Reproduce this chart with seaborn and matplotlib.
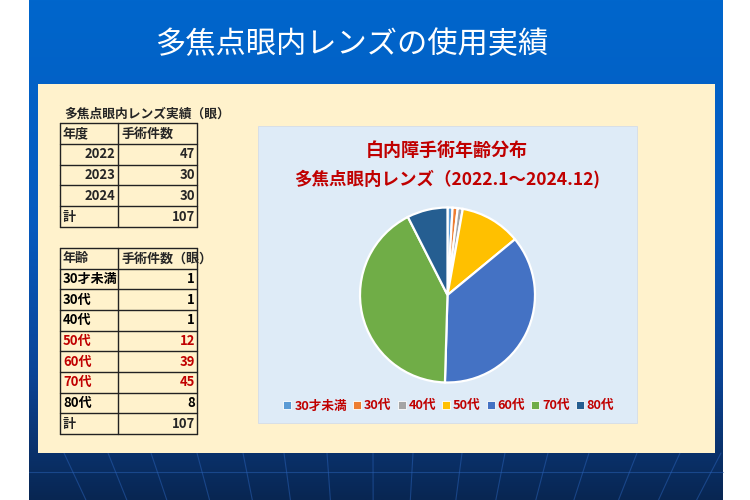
import numpy as np
import matplotlib
matplotlib.use("Agg")
import matplotlib.pyplot as plt
import seaborn as sns
from matplotlib.colors import LinearSegmentedColormap
from matplotlib.patches import Rectangle
from matplotlib.lines import Line2D

# ---------------- data ----------------
slide_title = "多焦点眼内レンズの使用実績"
table1_title = "多焦点眼内レンズ実績（眼）"
table1_header = ["年度", "手術件数"]
years = ["2022", "2023", "2024"]
year_counts = [47, 30, 30]
table2_header = ["年齢", "手術件数（眼）"]
age_labels = ["30才未満", "30代", "40代", "50代", "60代", "70代", "80代"]
age_counts = [1, 1, 1, 12, 39, 45, 8]
highlight_ages = ["50代", "60代", "70代"]
total_label = "計"
pie_title = ["白内障手術年齢分布", "多焦点眼内レンズ（2022.1～2024.12)"]
pie_colors = ["#5B9BD5", "#ED7D31", "#A5A5A5", "#FFC000", "#4472C4", "#70AD47", "#255E91"]

# ---------------- style ----------------
sns.set_style("white")
plt.rcParams["font.family"] = ["Noto Sans CJK JP", "DejaVu Sans"]

W, H = 750, 500
fig = plt.figure(figsize=(7.5, 5), dpi=100)
fig.patch.set_facecolor("white")

bg = fig.add_axes([0, 0, 1, 1])
bg.set_xlim(0, W)
bg.set_ylim(H, 0)
bg.axis("off")

# blue gradient panel
cmap = LinearSegmentedColormap.from_list(
    "slide",
    [(0.0, (0/255, 102/255, 204/255)),
     (0.45, (6/255, 90/255, 190/255)),
     (0.75, (10/255, 68/255, 150/255)),
     (0.9, (10/255, 50/255, 108/255)),
     (1.0, (8/255, 38/255, 82/255))])
grad = np.linspace(0, 1, 256).reshape(-1, 1)
bg.imshow(grad, cmap=cmap, aspect="auto", extent=(29, 723, H, 0), zorder=0)

# faint perspective grid at bottom
vp = (375, 1120)
for x0 in [64, 108, 151, 197, 243, 284, 327, 373, 413, 462, 505, 548, 589, 637, 680, 721]:
    t = np.array([453, H])
    xs = vp[0] + (x0 - vp[0]) * (vp[1] - t) / (vp[1] - 453)
    bg.plot(xs, t, color="#2a62b8", lw=0.8, alpha=0.5, zorder=1)
bg.plot([29, 723], [472, 472], color="#2a62b8", lw=0.8, alpha=0.5, zorder=1)

# cream box and pie box
bg.add_patch(Rectangle((38, 84), 677, 369, facecolor="#FFF2CC", edgecolor="none", zorder=2))
bg.add_patch(Rectangle((258, 126), 379, 297, facecolor="#DEEBF7", edgecolor="#d4dde8", lw=0.6, zorder=3))

# slide title
bg.text(352, 45, slide_title, color="white", fontsize=21.8, ha="center", va="center", zorder=5)

# ---------------- tables ----------------
red = "#C00000"
fs = 9.4
x_left, x_mid, x_right = 60, 118, 197

bg.text(64, 114, table1_title, fontsize=9.2, fontweight="bold", ha="left", va="center", zorder=5)

def draw_grid(y_rows):
    for y in y_rows:
        bg.plot([x_left, x_right], [y, y], color="#222", lw=1, zorder=4)
    for x in (x_left, x_mid, x_right):
        bg.plot([x, x], [y_rows[0], y_rows[-1]], color="#222", lw=1, zorder=4)

rows1 = np.linspace(123, 227, len(years) + 3)
draw_grid(rows1)
c1 = (rows1[:-1] + rows1[1:]) / 2
bg.text(63, c1[0], table1_header[0], fontsize=fs, fontweight="bold", va="center", zorder=5)
bg.text(121, c1[0], table1_header[1], fontsize=fs, fontweight="bold", va="center", zorder=5)
for i, (yr, n) in enumerate(zip(years, year_counts)):
    bg.text(115, c1[i + 1], yr, fontsize=fs, fontweight="bold", ha="right", va="center", zorder=5)
    bg.text(195, c1[i + 1], str(n), fontsize=fs, fontweight="bold", ha="right", va="center", zorder=5)
bg.text(63, c1[-1], total_label, fontsize=fs, fontweight="bold", va="center", zorder=5)
bg.text(195, c1[-1], str(sum(year_counts)), fontsize=fs, fontweight="bold", ha="right", va="center", zorder=5)

rows2 = np.linspace(248, 434, len(age_labels) + 3)
draw_grid(rows2)
c2 = (rows2[:-1] + rows2[1:]) / 2
bg.text(63, c2[0], table2_header[0], fontsize=fs, fontweight="bold", va="center", zorder=5)
bg.text(121, c2[0], table2_header[1], fontsize=fs, fontweight="bold", va="center", zorder=5)
for i, (lab, n) in enumerate(zip(age_labels, age_counts)):
    col = red if lab in highlight_ages else "black"
    bg.text(63, c2[i + 1], lab, fontsize=fs, fontweight="bold", color=col, va="center", zorder=5)
    bg.text(195, c2[i + 1], str(n), fontsize=fs, fontweight="bold", color=col, ha="right", va="center", zorder=5)
bg.text(63, c2[-1], total_label, fontsize=fs, fontweight="bold", va="center", zorder=5)
bg.text(195, c2[-1], str(sum(age_counts)), fontsize=fs, fontweight="bold", ha="right", va="center", zorder=5)

# ---------------- pie ----------------
bg.text(447, 150, pie_title[0], fontsize=13, fontweight="bold", color=red, ha="center", va="center", zorder=5)
bg.text(447, 179, pie_title[1], fontsize=12.6, fontweight="bold", color=red, ha="center", va="center", zorder=5)

cx, cy, r = 447.5, 295, 87.5
pax = fig.add_axes([(cx - r) / W, 1 - (cy + r) / H, 2 * r / W, 2 * r / H])
wedges, _ = pax.pie(age_counts, colors=pie_colors, startangle=90, counterclock=False,
                    radius=1, wedgeprops=dict(edgecolor="white", linewidth=1.6))
for w in wedges:
    w.set_clip_on(False)
pax.set_xlim(-1, 1)
pax.set_ylim(-1, 1)
pax.set_aspect("equal")
pax.axis("off")

handles = [Line2D([0], [0], marker="s", linestyle="none", markersize=5.5,
                  markerfacecolor=c, markeredgecolor="white", markeredgewidth=0.6)
           for c in pie_colors]
fig.legend(handles, age_labels, loc="center", bbox_to_anchor=(449 / W, 1 - 406 / H),
           ncol=len(age_labels), frameon=False, handlelength=0.6, handletextpad=0.25,
           columnspacing=0.5, labelcolor=red, prop=dict(size=9.1, weight="bold"))

fig.savefig("out.png", dpi=100, facecolor="white")
